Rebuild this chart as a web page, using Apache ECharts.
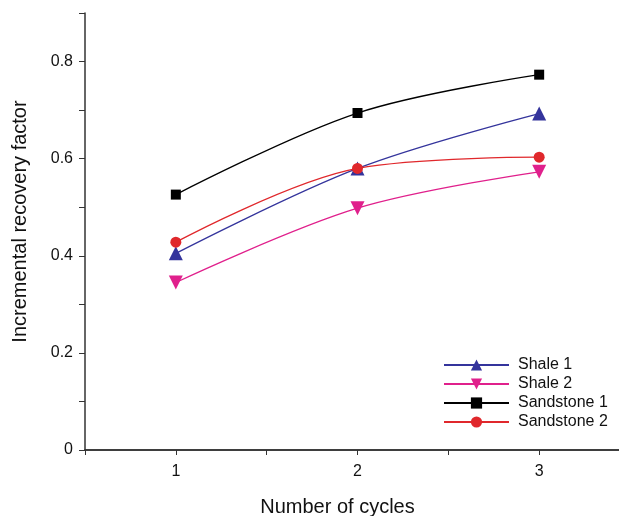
<!DOCTYPE html>
<html><head><meta charset="utf-8">
<script src="https://cdn.jsdelivr.net/npm/echarts@6/dist/echarts.min.js"></script>
<style>html,body{margin:0;padding:0;background:#fff}#c{width:619px;height:516px}</style>
</head><body><div id="c"></div>
<script>
const cycles = [1, 2, 3];
const shale1 = [0.405, 0.580, 0.693];
const shale2 = [0.345, 0.498, 0.573];
const sandstone1 = [0.526, 0.694, 0.773];
const sandstone2 = [0.428, 0.580, 0.603];
const xTicks = [1, 2, 3];
const yTicks = [0, 0.2, 0.4, 0.6, 0.8];

const font = 'Liberation Sans, Arial, sans-serif';
function pts(v){ return cycles.map((c,i)=>[c, v[i]]); }
function ser(name, data, color, symbol, size){
  return {name, type:'line', data:pts(data), smooth:0.35, symbol, symbolSize:size,
    lineStyle:{color, width:1.3}, itemStyle:{color}, z:3};
}
const chart = echarts.init(document.getElementById('c'));
chart.setOption({
  animation:false,
  grid:{left:85, right:-11, top:13, bottom:66, containLabel:false, outerBoundsMode:'none'},
  xAxis:[{type:'value', min:0.5, max:3.5, interval:0.5, position:'bottom',
    name:'Number of cycles', nameLocation:'middle', nameGap:47,
    nameTextStyle:{fontFamily:font, fontSize:20, color:'#111', padding:[0,40,0,0]},
    axisLine:{show:true, onZero:false, lineStyle:{color:'#333', width:1.5}},
    axisTick:{show:true, inside:false, length:5, lineStyle:{color:'#333'}},
    axisLabel:{fontFamily:font, fontSize:16, color:'#111', margin:14,
      formatter:v=> xTicks.includes(v) ? String(v) : ''},
    splitLine:{show:false}},
   {type:'value', min:0.5, max:3.5, position:'top',
    axisLine:{show:true, lineStyle:{color:'#333', width:1.5}},
    axisTick:{show:false}, axisLabel:{show:false}, splitLine:{show:false}}],
  yAxis:{type:'value', min:0, max:0.9, interval:0.1,
    name:'Incremental recovery factor', nameLocation:'middle', nameGap:55,
    nameTextStyle:{fontFamily:font, fontSize:20, color:'#111', padding:[0,0,0,20]},
    axisLine:{show:true, lineStyle:{color:'#333', width:1.5}},
    axisTick:{show:true, length:6, lineStyle:{color:'#333'}},
    axisLabel:{fontFamily:font, fontSize:16, color:'#111', margin:12,
      formatter:v=>{ const k=Math.round(v*10); const r=k/10; return (Math.abs(v-r)<1e-9 && yTicks.includes(r)) ? (r===0?'0':String(r)) : ''; }},
    splitLine:{show:false}},
  legend:{orient:'vertical', left:438, top:352, itemWidth:65, itemHeight:14, itemGap:3,
    textStyle:{fontFamily:font, fontSize:16, color:'#111', padding:[0,0,0,4]},
    data:['Shale 1','Shale 2','Sandstone 1','Sandstone 2']},
  series:[
    ser('Shale 1', shale1, '#34349c', 'triangle', 14),
    ser('Shale 2', shale2, '#e0208c', 'path://M0,0 L10,0 L5,9 Z', 14),
    ser('Sandstone 1', sandstone1, '#000000', 'rect', 10),
    ser('Sandstone 2', sandstone2, '#e0282c', 'circle', 11)
  ]
});
</script></body></html>
